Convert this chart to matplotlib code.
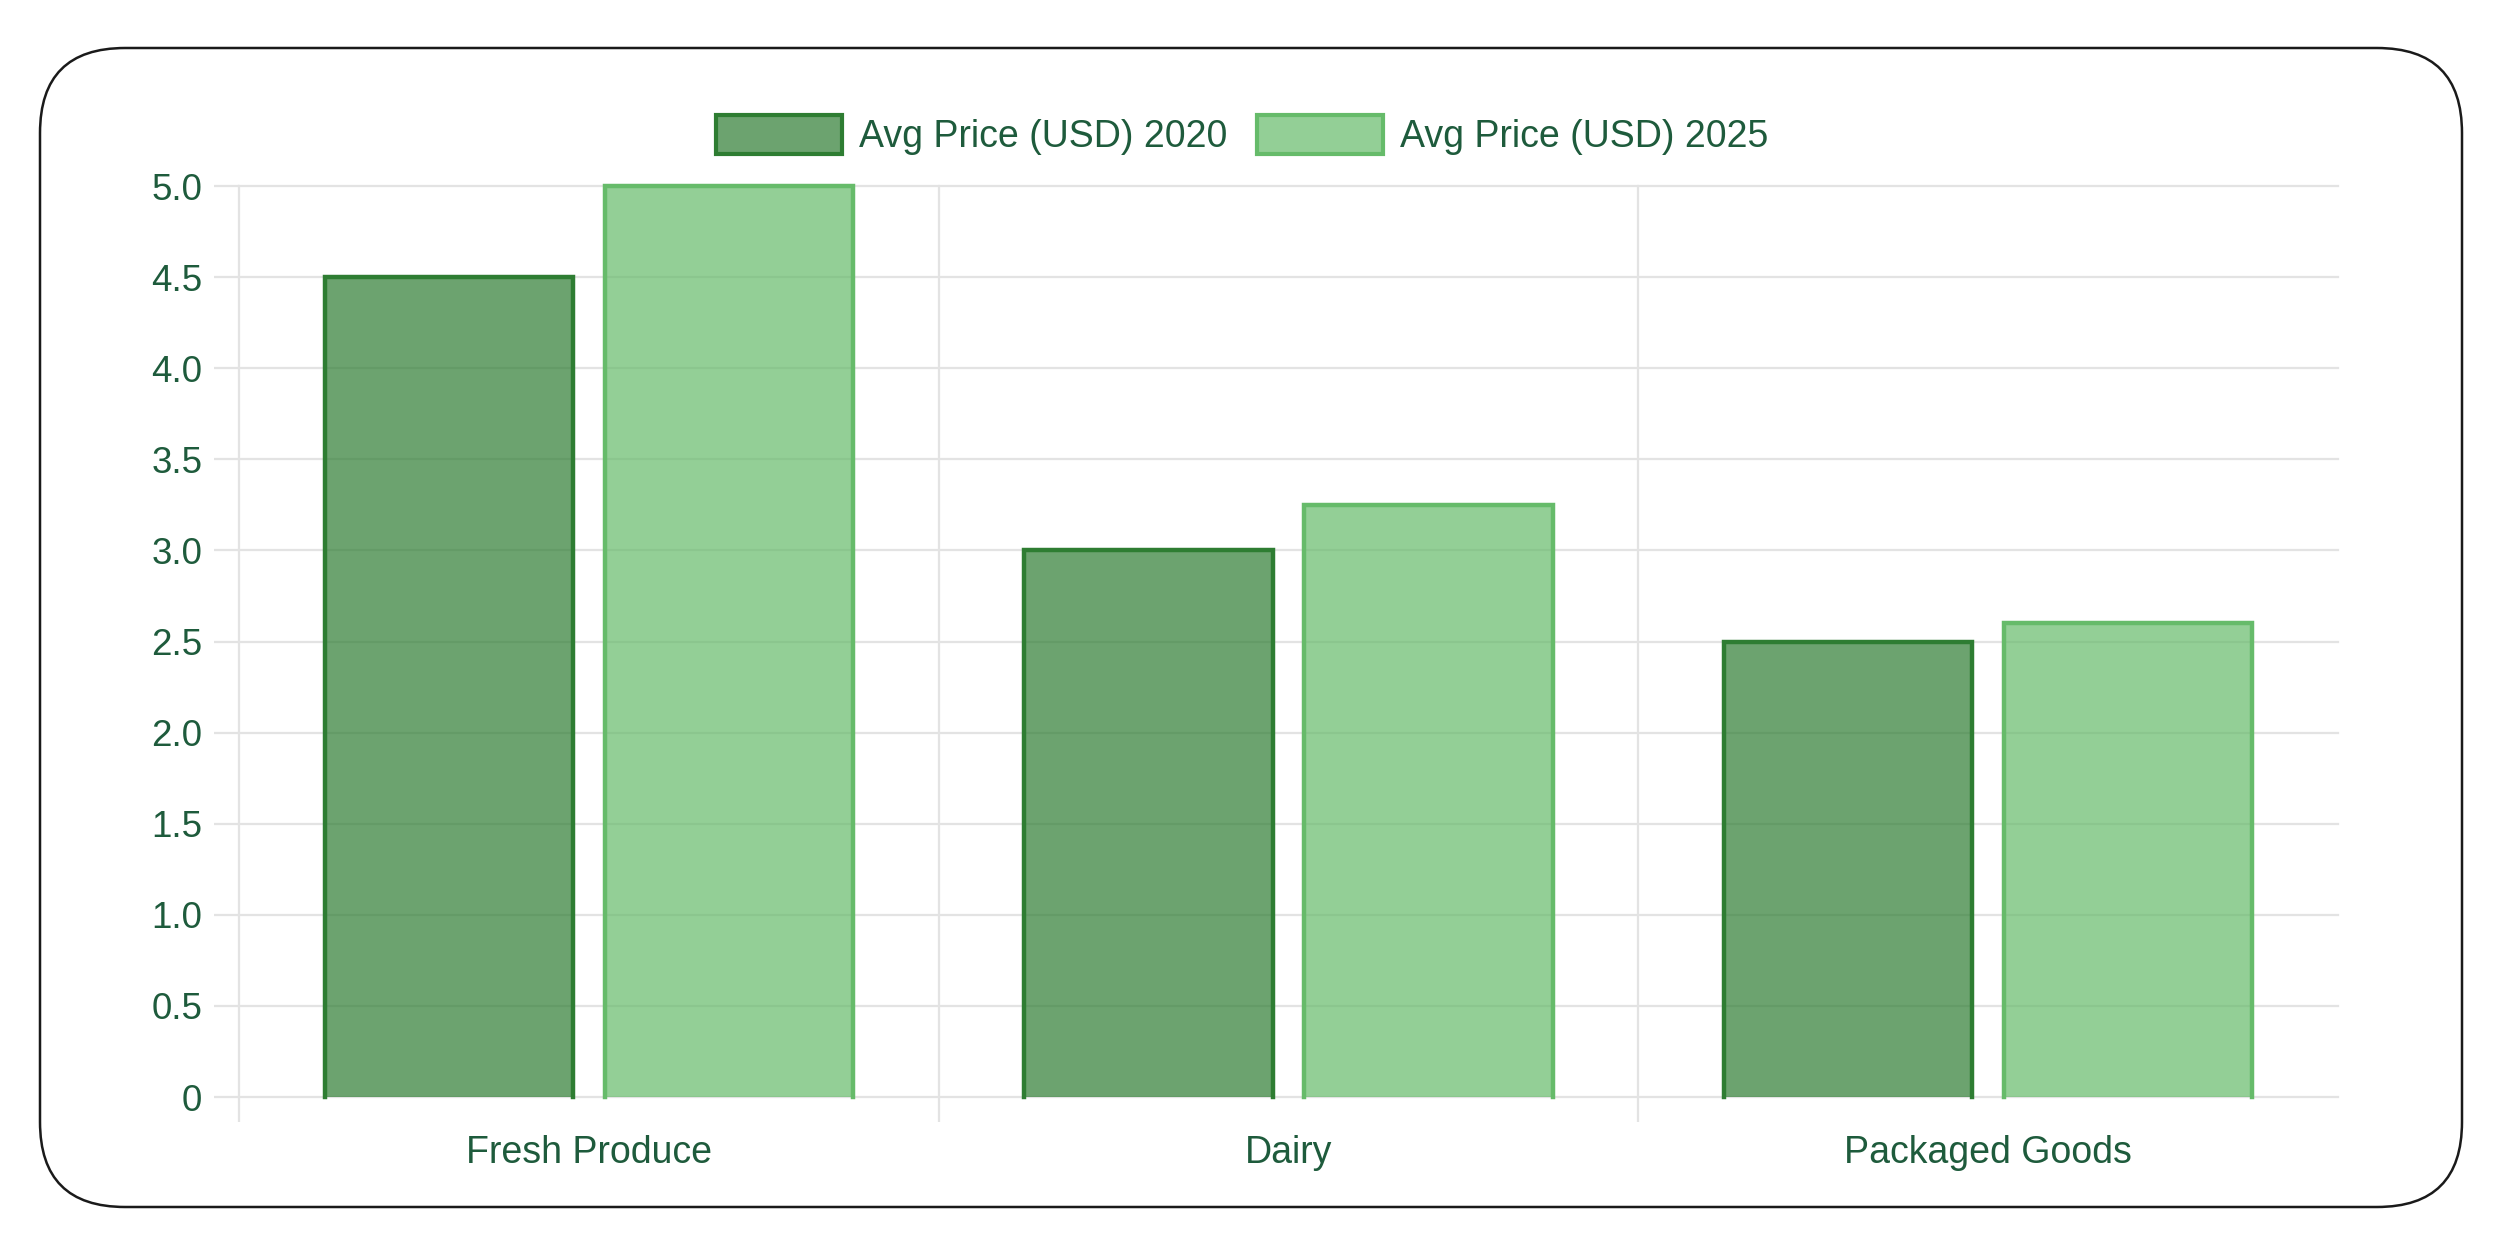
import matplotlib
matplotlib.use("Agg")
import matplotlib.pyplot as plt
import numpy as np
from matplotlib.patches import FancyBboxPatch, Patch

# data
categories = ["Fresh Produce", "Dairy", "Packaged Goods"]
series_names = ["Avg Price (USD) 2020", "Avg Price (USD) 2025"]
prices_2020 = [4.5, 3.0, 2.5]
prices_2025 = [5.0, 3.25, 2.6]
y_ticks = [0, 0.5, 1.0, 1.5, 2.0, 2.5, 3.0, 3.5, 4.0, 4.5, 5.0]
y_tick_labels = ["0", "0.5", "1.0", "1.5", "2.0", "2.5", "3.0", "3.5", "4.0", "4.5", "5.0"]

# styles
fill_colors = [(46/255, 125/255, 50/255, 0.7), (102/255, 187/255, 106/255, 0.7)]
edge_colors = ["#2e7d32", "#66bb6a"]
text_color = "#1e5b3c"
grid_color = "#e3e3e3"

plt.rcParams['font.family'] = ['Liberation Sans', 'DejaVu Sans']

fig = plt.figure(figsize=(24.97, 12.4), dpi=100)
ax = fig.add_axes([0.0957, 0.1153, 0.8406, 0.7347])

x = np.arange(len(categories))
bar_w = 0.355
offsets = [-0.2, 0.2]
for vals, off, fc, ec in zip([prices_2020, prices_2025], offsets, fill_colors, edge_colors):
    bars = ax.bar(x + off, vals, bar_w, color=fc, edgecolor="none", zorder=2)
    # border on left, top and right only (no bottom border)
    for p in bars.patches:
        bx, bw, bh = p.get_x(), p.get_width(), p.get_height()
        ax.plot([bx, bx, bx + bw, bx + bw], [0, bh, bh, 0], color=ec,
                lw=3.2, solid_joinstyle="miter", zorder=3, clip_on=False)

ax.set_xlim(-0.5, 2.5)
ax.set_ylim(0, 5)

for s in ax.spines.values():
    s.set_visible(False)

ax.set_yticks(y_ticks)
ax.set_yticklabels(y_tick_labels)
ax.yaxis.grid(True, color=grid_color, lw=1.6, zorder=0)
ax.tick_params(axis="y", length=18, width=1.6, color=grid_color, pad=8.5,
               labelsize=26.5, labelcolor=text_color)

ax.set_xticks(x)
ax.set_xticklabels(categories)
ax.set_xticks([-0.5, 0.5, 1.5], minor=True)
ax.xaxis.grid(True, which="minor", color=grid_color, lw=1.6, zorder=0)
ax.xaxis.grid(False, which="major")
ax.tick_params(axis="x", which="major", length=0, pad=27, labelsize=27,
               labelcolor=text_color)
ax.tick_params(axis="x", which="minor", length=18, width=1.6, color=grid_color)
ax.set_axisbelow(True)

for t in ax.xaxis.get_minor_ticks() + ax.yaxis.get_major_ticks():
    t.gridline.set_clip_on(False)

handles = [Patch(facecolor=fc, edgecolor=ec, linewidth=3.0)
           for fc, ec in zip(fill_colors, edge_colors)]
fig.legend(handles, series_names, loc="center", bbox_to_anchor=(0.4975, 0.891),
           ncol=2, frameon=False, fontsize=27, labelcolor=text_color,
           handlelength=3.35, handleheight=1.2, handletextpad=0.45,
           columnspacing=0.8)

border = FancyBboxPatch((0.40, 0.33), 24.22, 11.59,
                        boxstyle="round,pad=0,rounding_size=0.85",
                        transform=fig.dpi_scale_trans, fill=False,
                        edgecolor="#1a1a1a", lw=1.8)
fig.patches.append(border)

fig.savefig("out.png", dpi=100, facecolor="white")
